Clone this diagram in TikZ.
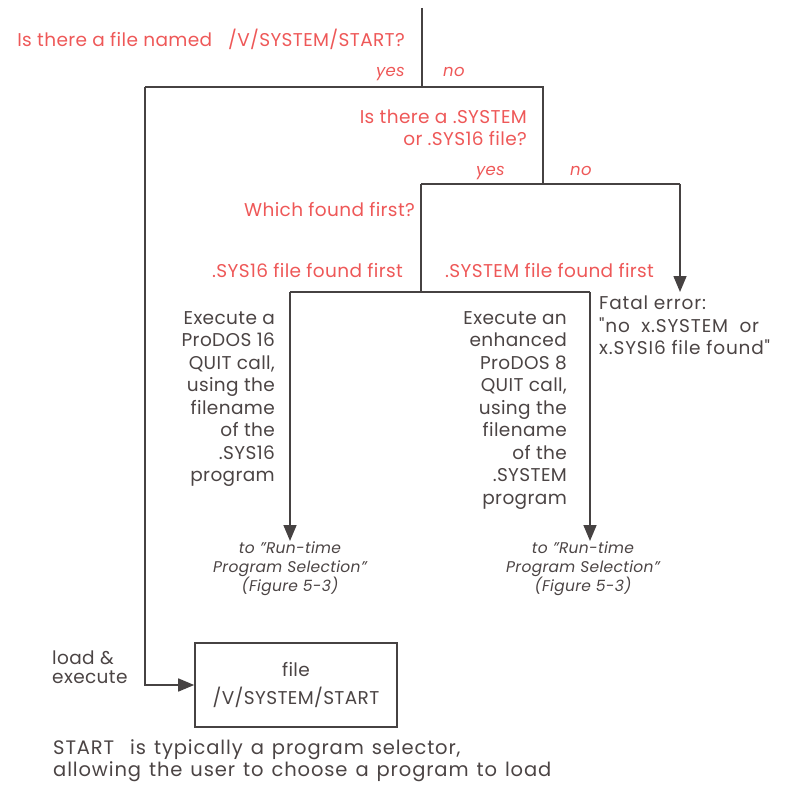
\documentclass[tikz,border=0pt]{standalone}
\usepackage{fontspec}
\setmainfont{Poppins}[LetterSpace=2.0]
\newfontfamily\widefont{Poppins}[LetterSpace=4.5]
\newcommand\mywidespaces{\spaceskip=8pt plus 2pt\relax}
\usetikzlibrary{arrows.meta}
\definecolor{qred}{RGB}{238,88,88}
\definecolor{qgray}{RGB}{75,68,68}
\definecolor{qline}{RGB}{70,66,66}
\tikzset{
  ask/.style={text=qred, font=\fontsize{18.5}{22}\selectfont, inner sep=0pt, align=right},
  ans/.style={text=qred, font=\fontsize{16.5}{22}\selectfont\itshape, inner sep=0pt},
  act/.style={text=qgray, font=\fontsize{18.5}{22.5}\selectfont, inner sep=0pt},
  goto/.style={text=qgray, font=\fontsize{15.5}{19}\selectfont\itshape, inner sep=0pt, align=center},
  flow/.style={draw=qline, line width=1.6pt},
  arr/.style={flow, -{Triangle[width=13pt,length=16pt]}},
}
\begin{document}
\begin{tikzpicture}[x=1pt,y=-1pt]
\useasboundingbox (0,0) rectangle (791,794);
% junctions
\coordinate (top) at (422,8);
\coordinate (j1) at (422,87);
\coordinate (j1L) at (145,87);
\coordinate (j1R) at (543,87);
\coordinate (j2) at (543,184);
\coordinate (j2L) at (421,184);
\coordinate (j2R) at (680,184);
\coordinate (j3) at (421,292);
\coordinate (j3L) at (290,292);
\coordinate (j3R) at (590,292);
\coordinate (fatalend) at (680,292);
% texts
\node[ask, anchor=base east] (q1) at (405,47) {Is there a file named\ \ \ /V/SYSTEM/START?};
\node[ans, anchor=base east] (y1) at (405,77) {yes};
\node[ans, anchor=base west] (n1) at (443,77) {no};
\node[ask, anchor=north east] (q2) at (527,110) {Is there a .SYSTEM\\or .SYS16 file?};
\node[ans, anchor=base east] (y2) at (505,176) {yes};
\node[ans, anchor=base west] (n2) at (570,176) {no};
\node[ask, anchor=base east] (q3) at (415,217) {Which found first?};
\node[ask, anchor=base east] (a1) at (403,277) {.SYS16 file found first};
\node[ask, anchor=base west] (a2) at (445,277) {.SYSTEM file found first};
\node[act, anchor=north east, align=right] (ex1) at (275,311) {Execute a\\ProDOS 16\\QUIT call,\\using the\\filename\\of the\\.SYS16\\program};
\node[act, anchor=north east, align=right] (ex2) at (567,311) {Execute an\\enhanced\\ProDOS 8\\QUIT call,\\using the\\filename\\of the\\.SYSTEM\\program};
\node[act, anchor=north west, align=left, font=\widefont\fontsize{18.5}{22.5}\selectfont] (fatal) at (599,296) {Fatal error:\\"no\ \ x.SYSTEM\ \ or\\x.SYSI6 file found"};
\node[goto, anchor=north] (run1) at (290,541) {to "Run-time\\Program Selection"\\(Figure 5-3)};
\node[goto, anchor=north] (run2) at (583,541) {to "Run-time\\Program Selection"\\(Figure 5-3)};
\node[act, anchor=north west, align=left, font=\fontsize{18.5}{19}\selectfont] (load) at (52,651) {load \&\\execute};
\node[flow, act, minimum width=202pt, minimum height=84pt, align=center, font=\fontsize{18.5}{28}\selectfont] (startbox) at (296,685) {file\\/V/SYSTEM/START};
\node[act, anchor=north west, align=left, font=\widefont\fontsize{19.5}{22}\selectfont\mywidespaces] (note) at (53,739) {START\ \ is typically a program selector,\\allowing the user to choose a program to load};
% connectors
\draw[flow] (top) -- (j1);
\draw[flow] (j1L) -- (j1R) -- (j2);
\draw[arr] (j1L) |- (startbox.west);
\draw[flow] (j2L) -- (j2R);
\draw[arr] (j2R) -- (fatalend);
\draw[flow] (j2L) -- (j3);
\draw[flow] (j3L) -- (j3R);
\draw[arr] (j3L) -- (j3L |- run1.north);
\draw[arr] (j3R) -- (j3R |- run2.north);
\end{tikzpicture}
\end{document}
